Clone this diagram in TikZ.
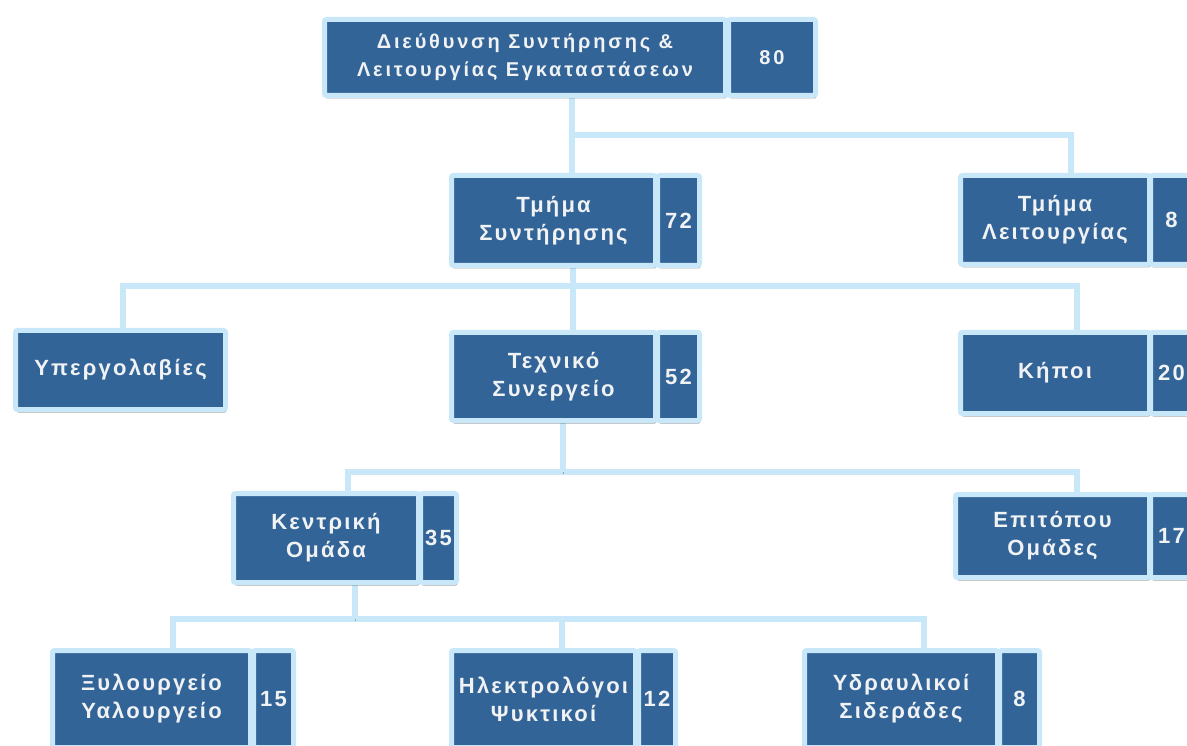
\documentclass[tikz,border=0pt]{standalone}
\usepackage{fontspec}
\newfontfamily\bxfont[LetterSpace=10]{Liberation Sans}
\newfontfamily\bxtopfont[LetterSpace=14]{Liberation Sans}
\usetikzlibrary{shadows,backgrounds}
\definecolor{darkb}{RGB}{50,100,152}
\definecolor{lightb}{RGB}{200,232,250}
\definecolor{txtc}{RGB}{240,242,244}
\newcommand\orgbx[7][]{%
  \pgfmathsetmacro\obw{#5-#3-5}\pgfmathsetmacro\obh{#6-#4-5}%
  \node[orgbox,#1,minimum width=\obw pt,minimum height=\obh pt] (#2) at ({(#3+#5)/2},{(#4+#6)/2}) {#7};}
\tikzset{
  orgbox/.style={draw=lightb, fill=darkb, line width=5pt, inner sep=0pt, text=txtc,
    align=center, rounded corners=2pt,
    font=\bxfont\bfseries\fontsize{22}{28}\selectfont,
    drop shadow={shadow xshift=1pt, shadow yshift=-3pt, opacity=0.35, fill=black}},
  topfont/.style={font=\bxtopfont\bfseries\fontsize{20}{28}\selectfont},
  conn/.style={line width=6pt, draw=lightb,
    preaction={draw=black, opacity=0.28, transform canvas={yshift=-2pt}}}
}
\begin{document}
\begin{tikzpicture}[x=1pt,y=-1pt]
\useasboundingbox (0,0) rectangle (1187,746);
\clip (0,0) rectangle (1187,746);
% boxes
\orgbx[topfont]{d}{322}{17}{728}{98}{Διεύθυνση Συντήρησης \&\\Λειτουργίας Εγκαταστάσεων}
\orgbx[topfont]{dn}{726}{17}{818}{98}{80}
\orgbx{ts}{449}{173}{658}{268}{Τμήμα\\Συντήρησης}
\orgbx{tsn}{655}{173}{702}{268}{72}
\orgbx{tl}{958}{173}{1152}{267}{Τμήμα\\Λειτουργίας}
\orgbx{tln}{1148}{173}{1195}{267}{8}
\orgbx{u}{13}{328}{228}{412}{Υπεργολαβίες}
\orgbx{te}{449}{330}{658}{423}{Τεχνικό\\Συνεργείο}
\orgbx{ten}{655}{330}{702}{423}{52}
\orgbx{k}{958}{330}{1152}{416}{Κήποι}
\orgbx{kn}{1148}{330}{1195}{416}{20}
\orgbx{ko}{231}{491}{421}{585}{Κεντρική\\Ομάδα}
\orgbx{kon}{418}{491}{459}{585}{35}
\orgbx{eo}{953}{492}{1152}{580}{Επιτόπου\\Ομάδες}
\orgbx{eon}{1148}{492}{1195}{580}{17}
\orgbx{x}{50}{648}{253}{750}{Ξυλουργείο\\Υαλουργείο}
\orgbx{xn}{251}{648}{296}{750}{15}
\orgbx{h}{449}{648}{638}{750}{Ηλεκτρολόγοι\\Ψυκτικοί}
\orgbx{hn}{636}{648}{678}{750}{12}
\orgbx{y}{802}{648}{1000}{750}{Υδραυλικοί\\Σιδεράδες}
\orgbx{yn}{997}{648}{1042}{750}{8}
% connectors
\begin{scope}[on background layer]
\fill[white] (0,0) rectangle (1187,746);
\coordinate (c1) at (572,135); \coordinate (c1r) at (1071,135);
\coordinate (c2) at (573,286); \coordinate (c2l) at (123,286); \coordinate (c2r) at (1077,286);
\coordinate (c3) at (563,472); \coordinate (c3l) at (348,472); \coordinate (c3r) at (1077,472);
\coordinate (c4) at (355,619); \coordinate (c4l) at (173,619); \coordinate (c4m) at (562,619); \coordinate (c4r) at (924,619);
\draw[conn] (tl.north -| c1r) -- (c1r) -- (c1) -- (d.south -| c1);
\draw[conn] (c1) -- (ts.north -| c1);
\draw[conn] (u.north -| c2l) -- (c2l) -- (c2r) -- (k.north -| c2r);
\draw[conn] (ts.south -| c2) -- (te.north -| c2);
\draw[conn] (ko.north -| c3l) -- (c3l) -- (c3r) -- (eo.north -| c3r);
\draw[conn] (te.south -| c3) -- (c3);
\draw[conn] (x.north -| c4l) -- (c4l) -- (c4r) -- (y.north -| c4r);
\draw[conn] (ko.south -| c4) -- (c4);
\draw[conn] (c4m) -- (h.north -| c4m);
\end{scope}
\end{tikzpicture}
\end{document}
